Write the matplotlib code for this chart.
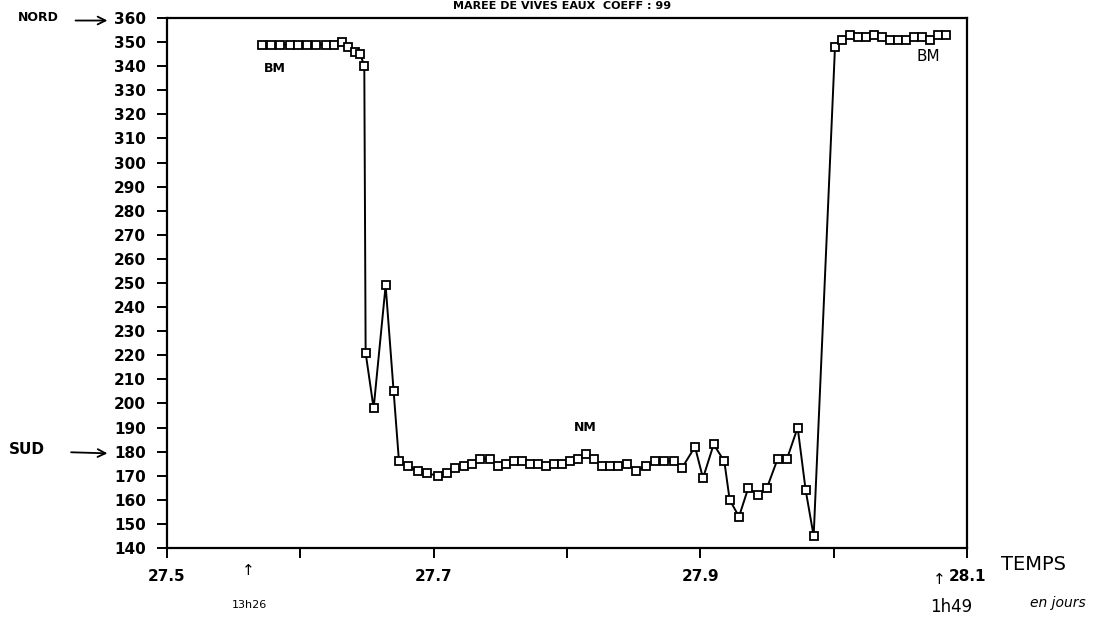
import matplotlib.pyplot as plt

# current direction (degrees) vs time (days) - spring tide, coeff 99
temps = [27.571, 27.578, 27.585, 27.592, 27.598, 27.605, 27.612, 27.619, 27.625, 27.631,
         27.636, 27.641, 27.645, 27.648, 27.649, 27.655, 27.664, 27.670, 27.674, 27.681,
         27.688, 27.695, 27.703, 27.710, 27.716, 27.723, 27.729, 27.735, 27.742, 27.748,
         27.754, 27.760, 27.766, 27.772, 27.778, 27.784, 27.790, 27.796, 27.802, 27.808,
         27.814, 27.820, 27.826, 27.832, 27.838, 27.845, 27.852, 27.859, 27.866, 27.873,
         27.880, 27.886, 27.896, 27.902, 27.910, 27.918, 27.922, 27.929, 27.936, 27.943,
         27.950, 27.958, 27.965, 27.973, 27.979, 27.985, 28.001, 28.006, 28.012, 28.018,
         28.024, 28.030, 28.036, 28.042, 28.048, 28.054, 28.060, 28.066, 28.072, 28.078,
         28.084]
direction = [349, 349, 349, 349, 349, 349, 349, 349, 349, 350,
             348, 346, 345, 340, 221, 198, 249, 205, 176, 174,
             172, 171, 170, 171, 173, 174, 175, 177, 177, 174,
             175, 176, 176, 175, 175, 174, 175, 175, 176, 177,
             179, 177, 174, 174, 174, 175, 172, 174, 176, 176,
             176, 173, 182, 169, 183, 176, 160, 153, 165, 162,
             165, 177, 177, 190, 164, 145, 348, 351, 353, 352,
             352, 353, 352, 351, 351, 351, 352, 352, 351, 353,
             353]

yticks = list(range(140, 361, 10))
xlabels = {27.5: '27.5', 27.7: '27.7', 27.9: '27.9', 28.1: '28.1'}

fig = plt.figure(figsize=(11.02, 6.22), dpi=100)
ax = fig.add_axes([0.1515, 0.119, 0.726, 0.852])

ax.plot(temps, direction, color='black', lw=1.4, marker='s', ms=6,
        mfc='white', mec='black', mew=1.3)

ax.set_xlim(27.5, 28.1)
ax.set_ylim(140, 360)
ax.set_yticks(yticks)
ax.set_yticklabels([str(v) for v in yticks], fontsize=11, fontweight='bold')
xt = [27.5, 27.6, 27.7, 27.8, 27.9, 28.0, 28.1]
ax.set_xticks(xt)
ax.set_xticklabels([xlabels.get(round(v, 1), '') for v in xt], fontsize=11, fontweight='bold')
ax.tick_params(direction='out', length=7, width=1.4, pad=8, colors='black')
for s in ax.spines.values():
    s.set_linewidth(1.6)

ax.text(27.573, 339, 'BM', fontsize=9, fontweight='bold', va='center')
ax.text(27.805, 190, 'NM', fontsize=9, fontweight='bold', va='center')
ax.text(28.062, 344, 'BM', fontsize=11, va='center')

# title at the very top of the scan
fig.text(0.51, 0.999, 'MAREE DE VIVES EAUX  COEFF : 99', ha='center', va='top',
         fontsize=8, fontweight='bold')

# handwritten notes
arrow = dict(arrowstyle='->', lw=1.3, color='black', mutation_scale=14)
fig.text(0.016, 0.972, 'NORD', fontsize=9, fontweight='bold', va='center')
ax.annotate('', xy=(0.1, 0.967), xytext=(0.066, 0.967), xycoords='figure fraction',
            textcoords='figure fraction', arrowprops=arrow, annotation_clip=False)
fig.text(0.008, 0.278, 'SUD', fontsize=11, fontweight='bold', va='center')
ax.annotate('', xy=(0.1, 0.271), xytext=(0.062, 0.273), xycoords='figure fraction',
            textcoords='figure fraction', arrowprops=arrow, annotation_clip=False)
fig.text(0.908, 0.092, 'TEMPS', fontsize=14, va='center')
fig.text(0.935, 0.03, 'en jours', fontsize=10, style='italic', va='center')
fig.text(0.225, 0.082, '↑', fontsize=11, ha='center', va='center')
fig.text(0.226, 0.027, '13h26', fontsize=8, ha='center', va='center')
fig.text(0.852, 0.068, '↑', fontsize=11, ha='center', va='center')
fig.text(0.863, 0.024, '1h49', fontsize=12, ha='center', va='center')

fig.savefig('out.png', dpi=100)
